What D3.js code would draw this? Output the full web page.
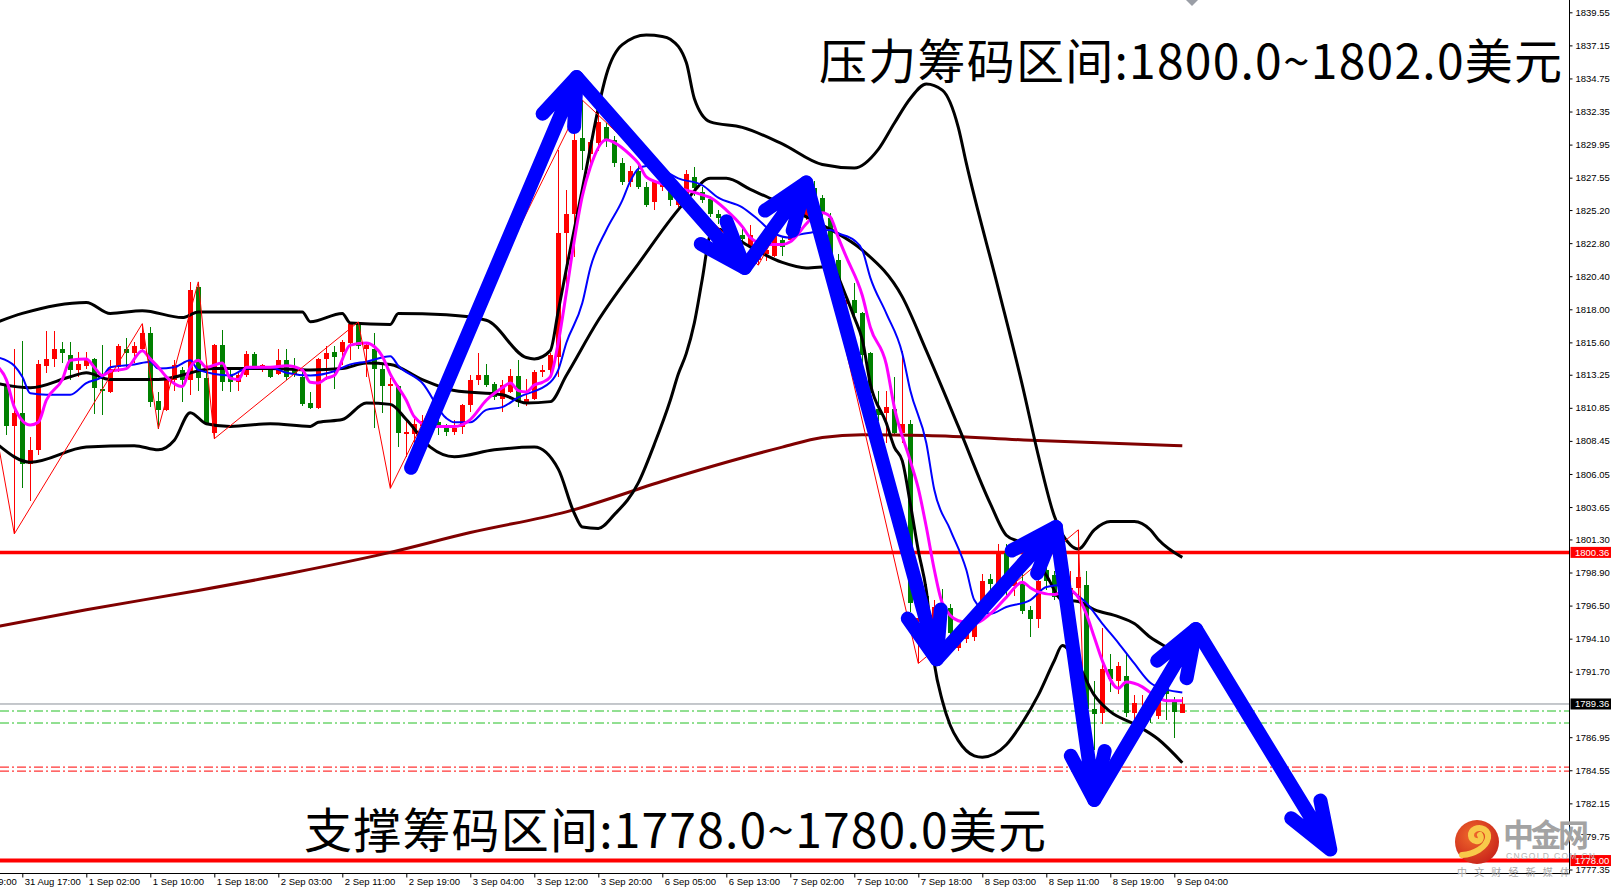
<!DOCTYPE html>
<html>
<head>
<meta charset="utf-8">
<script src="https://cdn.jsdelivr.net/npm/d3@7"></script>
<style>
  html, body { margin: 0; padding: 0; background: #fff; overflow: hidden; }
  svg { display: block; }
</style>
</head>
<body>
<div id="wrapper"></div>
<script>
// H1 bars, index 0 = first full bar at the left edge
const opens = [
  1812.6,1809.5,1810.5,1806.8,1807.8,1813.9,1814.4,1815.1,1814.7,1813.6,
  1813.9,1814.4,1812.25,1812.0,1813.8,1815.15,1814.8,1815.15,1816.25,1811.35,
  1810.7,1812.85,1813.6,1812.85,1819.6,1813.0,1809.0,1815.4,1813.2,1812.7,
  1813.2,1814.75,1813.6,1813.6,1813.3,1814.35,1813.7,1813.1,1811.2,1810.85,
  1814.4,1814.9,1814.9,1815.55,1816.95,1815.15,1815.15,1813.7,1812.4,1812.4,
  1808.95,1808.95,1809.5,1809.9,1809.8,1809.36,1809.07,1809.45,1811.03,1812.9,
  1813.26,1812.55,1811.5,1812.0,1813.15,1811.25,1811.5,1813.45,1813.6,1814.55,
  1823.5,1824.95,1830.4,1829.3,1830.05,1831.2,1830.3,1828.6,1827.2,1828.0,
  1826.9,1825.8,1826.9,1826.8,1825.6,1826.4,1827.6,1826.5,1826.0,1824.9,
  1824.6,1823.6,1823.4,1822.5,1821.6,1822.0,1821.9,1823.0,1823.0,1823.9,
  1824.8,1826.8,1826.1,1824.6,1821.6,1818.4,1818.7,1817.7,1814.8,1810.8,
  1810.45,1810.8,1809.05,1809.7,1795.4,1797.2,1795.2,1796.4,1796.3,1793.45,
  1794.1,1794.2,1796.65,1798.4,1798.1,1800.3,1797.95,1798.1,1796.2,1795.55,
  1799.05,1798.7,1797.3,1796.9,1797.8,1798.0,1789.0,1788.7,1791.9,1791.06,
  1791.4,1788.7,1788.5,1789.3,1788.5,1790.5,1789.6,1788.7
];
const highs = [
  1812.9,1815.1,1815.7,1808.7,1814.3,1816.4,1816.4,1815.6,1815.6,1814.9,
  1814.9,1814.5,1815.4,1814.3,1815.5,1815.9,1815.6,1816.96,1816.7,1812.0,
  1813.0,1814.3,1813.8,1820.0,1819.99,1813.8,1815.5,1816.5,1813.6,1813.45,
  1815.0,1814.9,1814.05,1813.8,1815.15,1815.15,1814.5,1813.45,1812.0,1814.5,
  1815.3,1815.3,1815.75,1817.0,1817.08,1815.5,1816.25,1814.1,1813.0,1812.5,
  1809.95,1810.05,1810.3,1810.2,1810.0,1809.7,1809.95,1811.1,1813.2,1814.8,
  1814.05,1812.75,1812.85,1813.7,1814.35,1812.95,1813.6,1813.95,1814.8,1829.55,
  1826.65,1831.7,1833.18,1830.3,1832.4,1831.5,1830.6,1829.0,1828.4,1828.5,
  1827.2,1827.4,1827.5,1827.6,1826.9,1828.1,1828.3,1826.9,1826.2,1825.2,
  1824.8,1823.9,1824.0,1824.1,1822.8,1822.6,1823.5,1823.3,1824.1,1825.2,
  1827.5,1827.3,1826.3,1825.0,1822.0,1819.0,1819.9,1817.8,1814.9,1812.1,
  1812.1,1813.1,1815.0,1809.95,1796.6,1798.1,1796.9,1797.7,1796.6,1794.3,
  1795.0,1795.5,1798.8,1798.8,1801.0,1801.0,1798.9,1798.8,1796.5,1798.5,
  1799.6,1799.0,1798.0,1799.0,1802.0,1799.0,1791.0,1794.9,1793.0,1792.4,
  1793.0,1790.0,1790.0,1790.3,1790.9,1790.8,1789.9,1789.9
];
const lows = [
  1808.9,1801.7,1805.0,1804.1,1807.4,1813.4,1813.8,1814.1,1812.9,1813.1,
  1813.7,1810.4,1810.3,1811.95,1813.45,1813.8,1814.1,1814.9,1810.9,1809.34,
  1810.6,1812.1,1811.3,1811.8,1812.1,1809.6,1808.61,1812.1,1812.0,1812.1,
  1813.1,1813.6,1813.45,1813.0,1813.2,1812.85,1813.1,1811.0,1810.8,1810.8,
  1812.85,1812.25,1813.95,1814.3,1815.15,1813.1,1809.35,1810.5,1805.0,1808.0,
  1807.3,1807.3,1809.1,1809.0,1808.9,1808.8,1808.85,1808.97,1810.55,1812.5,
  1812.35,1811.4,1810.55,1811.9,1810.9,1811.0,1811.4,1813.1,1813.1,1813.1,
  1819.15,1821.8,1828.1,1828.1,1829.5,1829.8,1828.3,1827.0,1826.9,1826.7,
  1825.4,1825.2,1826.6,1825.5,1825.4,1826.2,1826.2,1825.7,1824.7,1824.2,
  1823.3,1822.4,1822.6,1822.3,1821.2,1821.5,1821.8,1821.9,1822.9,1823.6,
  1824.5,1825.7,1824.5,1821.6,1819.7,1818.0,1817.6,1813.9,1809.7,1809.9,
  1808.3,1808.85,1808.3,1796.0,1792.3,1794.9,1794.7,1794.5,1794.1,1793.2,
  1793.8,1793.9,1796.1,1797.4,1797.95,1797.1,1797.2,1795.9,1794.2,1794.9,
  1797.6,1796.9,1796.4,1796.6,1796.8,1783.0,1786.0,1787.9,1790.2,1790.1,
  1788.4,1788.0,1788.4,1788.0,1788.3,1788.2,1786.9,1788.7
];
const closes = [
  1809.5,1810.5,1806.8,1807.8,1814.0,1814.4,1815.1,1814.8,1813.6,1814.0,
  1814.3,1812.3,1812.05,1813.7,1815.3,1814.8,1815.3,1816.25,1811.3,1810.7,
  1812.85,1813.95,1812.85,1819.4,1813.0,1809.7,1815.4,1812.7,1812.7,1813.2,
  1814.75,1813.8,1813.95,1813.1,1814.35,1813.1,1813.3,1811.15,1810.85,1814.4,
  1814.85,1814.55,1815.6,1816.95,1815.3,1815.4,1813.7,1812.4,1812.6,1809.0,
  1809.1,1809.65,1809.9,1809.4,1809.4,1809.07,1809.36,1811.03,1812.9,1813.26,
  1812.5,1811.65,1812.5,1813.15,1811.25,1811.5,1813.45,1813.6,1814.65,1823.5,
  1824.95,1830.3,1829.45,1830.15,1831.6,1830.3,1828.6,1827.2,1828.0,1826.9,
  1825.6,1827.2,1827.2,1825.9,1826.6,1827.8,1826.8,1825.9,1824.9,1824.6,
  1823.6,1822.8,1823.1,1823.4,1822.5,1822.3,1823.3,1822.5,1823.9,1824.8,
  1826.8,1826.0,1824.9,1821.8,1820.0,1818.7,1817.7,1814.7,1811.9,1810.3,
  1810.9,1809.0,1809.7,1796.7,1795.6,1796.0,1796.4,1795.0,1794.5,1794.1,
  1794.55,1795.2,1798.3,1798.1,1800.35,1798.1,1798.8,1796.1,1795.55,1798.3,
  1798.3,1797.1,1796.9,1797.8,1798.6,1789.0,1788.6,1791.9,1791.2,1792.15,
  1788.7,1789.4,1789.0,1788.9,1789.8,1790.1,1788.8,1789.36
];

// time axis labels: [bar index, label]
const timeTicks = [
  [-6,"31 Aug 09:00"],[2,"31 Aug 17:00"],[10,"1 Sep 02:00"],[18,"1 Sep 10:00"],
  [26,"1 Sep 18:00"],[34,"2 Sep 03:00"],[42,"2 Sep 11:00"],[50,"2 Sep 19:00"],
  [58,"3 Sep 04:00"],[66,"3 Sep 12:00"],[74,"3 Sep 20:00"],[82,"6 Sep 05:00"],
  [90,"6 Sep 13:00"],[98,"7 Sep 02:00"],[106,"7 Sep 10:00"],[114,"7 Sep 18:00"],
  [122,"8 Sep 03:00"],[130,"8 Sep 11:00"],[138,"8 Sep 19:00"],[146,"9 Sep 04:00"]
];
const priceTicks = [1839.55,1837.15,1834.75,1832.35,1829.95,1827.55,1825.20,1822.80,1820.40,
  1818.00,1815.60,1813.25,1810.85,1808.45,1806.05,1803.65,1801.30,1798.90,1796.50,
  1794.10,1791.70,1786.95,1784.55,1782.15,1779.75,1777.35];

// indicator lines: [bar index, price]
const bbUpper = [[-1,1817.1],[2,1817.7],[10,1818.5],[13,1817.7],[17,1817.9],[22,1817.4],[24,1817.8],
  [37,1817.8],[38,1817.1],[42,1817.7],[43,1817.0],[48,1816.9],[49,1817.7],[55,1817.6],[60,1817.2],
  [65,1814.5],[66,1814.4],[68,1815.0],[69,1817.9],[70,1820.9],[71,1823.8],[72,1826.7],[73,1829.7],
  [74,1832.6],[75,1835.0],[77,1837.2],[80,1837.9],[82,1837.8],[83,1837.6],[85,1835.9],[86,1833.3],
  [88,1831.6],[92,1831.2],[97,1830.0],[102,1828.5],[106,1828.25],[109,1829.6],[111,1831.5],
  [113,1833.3],[115,1834.35],[117,1833.9],[119,1831.2],[120,1828.6],[124,1819.5],[127,1812.5],
  [129,1807.4],[131,1803.0],[133,1800.9],[134,1800.6],[136,1802.0],[138,1802.6],[141,1802.6],
  [143,1802.0],[144,1801.3],[147,1800.0]];
const bbMiddle = [[-1,1812.6],[3,1812.3],[8,1813.1],[10,1813.4],[13,1812.9],[19,1812.9],[26,1813.7],
  [33,1813.7],[38,1813.6],[42,1813.7],[45,1814.1],[48,1814.0],[52,1812.9],[56,1812.1],[62,1811.8],
  [65,1811.2],[68,1811.3],[70,1813.2],[74,1817.2],[79,1821.3],[85,1825.9],[88,1827.5],[90,1827.5],
  [93,1826.7],[96,1825.9],[100,1824.7],[103,1823.8],[107,1822.3],[112,1818.9],[115,1815.0],
  [119,1809.5],[123,1803.9],[125,1801.6],[127,1801.0],[130,1798.7],[132,1796.9],[134,1796.8],
  [136,1796.2],[139,1795.7],[141,1795.2],[143,1794.2],[145,1793.5],[147,1792.9]];
const bbLower = [[-1,1808.15],[3,1806.9],[10,1808.0],[16,1808.1],[19,1807.8],[21,1808.5],[23,1810.5],
  [25,1809.7],[28,1809.5],[33,1809.7],[38,1809.5],[39,1809.8],[42,1810.0],[45,1811.2],[48,1811.1],
  [50,1810.0],[53,1808.0],[56,1807.3],[61,1807.8],[66,1808.0],[69,1806.4],[71,1803.2],[72,1802.2],
  [74,1802.1],[76,1803.1],[79,1805.4],[81,1808.2],[83,1811.4],[84,1813.3],[85,1814.8],[86,1817.0],
  [87,1820.2],[88,1823.4],[89,1823.8],[91,1823.2],[94,1822.2],[97,1821.4],[100,1821.0],[103,1821.1],
  [105,1818.9],[106,1817.4],[107,1815.8],[108,1812.6],[110,1809.75],[111,1808.0],[112,1807.0],
  [113,1803.9],[114,1800.5],[115,1797.6],[116,1792.3],[117,1789.6],[118,1787.8],[119,1786.7],
  [121,1785.6],[122,1785.5],[125,1786.4],[127,1788.0],[129,1790.0],[131,1792.5],[132,1793.6],
  [134,1792.2],[136,1790.0],[138,1788.8],[141,1787.9],[144,1786.8],[147,1785.1]];
const maFast = [[-1,1813.8],[0,1812.9],[1,1810.9],[3,1809.6],[4,1809.8],[5,1811.4],[7,1812.9],[8,1814.3],
  [10,1814.4],[11,1813.8],[12,1813.2],[13,1813.5],[15,1813.7],[17,1815.0],[18,1814.4],[19,1813.8],
  [20,1813.1],[22,1812.4],[23,1813.8],[24,1814.3],[25,1813.8],[27,1814.1],[28,1813.0],[29,1812.9],
  [30,1813.8],[33,1813.8],[35,1813.9],[37,1813.6],[38,1812.7],[39,1812.65],[40,1813.0],[41,1813.2],
  [43,1815.4],[45,1815.55],[46,1815.3],[47,1814.6],[48,1813.3],[50,1811.4],[51,1810.2],[53,1809.5],
  [56,1809.5],[58,1810.0],[60,1811.4],[62,1812.3],[63,1812.65],[64,1812.1],[65,1812.0],[66,1812.5],
  [67,1812.7],[68,1813.1],[69,1815.6],[70,1819.2],[71,1823.0],[72,1826.2],[73,1828.3],[75,1830.3],
  [76,1830.1],[78,1829.2],[79,1828.6],[80,1827.6],[82,1827.1],[83,1826.9],[85,1826.65],[87,1826.3],
  [88,1826.1],[90,1825.2],[92,1824.0],[93,1823.2],[95,1822.7],[97,1822.7],[98,1822.9],[100,1824.2],
  [101,1824.8],[102,1825.0],[103,1824.7],[104,1823.2],[105,1821.8],[107,1819.0],[108,1816.7],
  [110,1814.0],[111,1810.9],[113,1807.0],[114,1805.0],[115,1802.2],[116,1799.1],[117,1796.7],
  [119,1795.4],[121,1795.2],[123,1795.9],[125,1797.1],[127,1798.2],[128,1797.8],[129,1797.5],
  [131,1797.3],[132,1797.5],[133,1797.6],[134,1797.1],[135,1795.9],[136,1794.2],[137,1792.5],
  [139,1790.5],[140,1790.95],[142,1790.6],[143,1790.2],[145,1789.6],[147,1789.6]];
const maSlow = [[-1,1814.5],[1,1813.9],[2,1813.1],[3,1811.9],[5,1811.8],[8,1811.8],[10,1812.65],
  [12,1813.1],[13,1813.8],[16,1814.0],[18,1814.2],[19,1813.7],[21,1813.8],[23,1814.3],[24,1813.6],
  [28,1813.2],[30,1813.7],[33,1813.8],[35,1813.4],[38,1813.2],[41,1813.5],[43,1814.0],[45,1814.2],
  [48,1814.6],[49,1813.9],[52,1812.65],[55,1810.1],[56,1809.8],[58,1809.8],[60,1810.7],[62,1810.9],
  [64,1811.6],[68,1812.7],[69,1813.6],[70,1815.55],[72,1818.45],[73,1821.0],[75,1823.75],[77,1825.9],
  [78,1827.3],[79,1828.2],[80,1828.4],[82,1828.1],[84,1827.5],[87,1827.0],[89,1826.1],[92,1825.4],
  [94,1824.5],[96,1823.5],[98,1823.2],[99,1823.4],[101,1823.6],[103,1823.75],[104,1823.5],
  [106,1823.0],[107,1822.3],[108,1820.3],[110,1817.7],[112,1814.8],[113,1812.1],[115,1808.3],
  [116,1804.9],[118,1802.0],[120,1799.1],[121,1796.9],[123,1795.9],[125,1796.4],[128,1796.9],
  [130,1797.85],[132,1798.0],[133,1797.6],[135,1796.7],[137,1795.2],[139,1793.8],[141,1792.3],
  [143,1790.9],[145,1790.4],[147,1790.2]];
const maLong = [[-1,1795.0],[10,1796.2],[24,1797.6],[36,1798.9],[48,1800.36],[58,1801.8],[70,1803.3],
  [83,1805.7],[90,1806.9],[97,1808.0],[102,1808.7],[107,1808.9],[115,1808.85],[128,1808.5],[147,1808.1]];
const zigzag = [[-1,1808.2],[1,1801.7],[17,1816.96],[19,1809.34],[24,1819.99],[26,1808.61],[44,1817.08],
  [48,1805.0],[72,1833.18],[94,1821.2],[100,1827.5],[114,1792.3],[134,1802.0],[135,1783.0]];

// hand drawn blue arrows, each leg ends with a head
const arrowPath = [[50.6,1806.5],[71.3,1834.85],[92.3,1821.0],[100,1827.2],[116.3,1792.6],
  [131.2,1802.2],[136,1782.4],[148.7,1794.8],[165.5,1778.8]];

const resistPrice = 1800.36;
const supportPrice = 1778.00;
const bidPrice = 1789.36;
const greenLevels = [1788.85, 1787.98];
const redLevels = [1784.78, 1784.49];

const topNote = "压力筹码区间:1800.0~1802.0美元";
const bottomNote = "支撑筹码区间:1778.0~1780.0美元";

function buildChart() {
    const dimension = { width: 1611, height: 888, plotRight: 1569.5, plotBottom: 873 };

    const xScaler = d3.scaleLinear().domain([0, 147]).range([6.3, 1182.3]);
    const yScaler = d3.scaleLinear().domain([1777.35, 1839.55]).range([869.5, 12.3]);

    const svg = d3.select("#wrapper").append("svg")
        .attr("width", dimension.width)
        .attr("height", dimension.height);

    svg.append("rect").attr("width", dimension.width).attr("height", dimension.height).attr("fill", "#fff");

    const defs = svg.append("defs");
    defs.append("clipPath").attr("id", "plotClip")
        .append("rect").attr("x", 0).attr("y", 0)
        .attr("width", dimension.plotRight).attr("height", dimension.plotBottom - 1);
    const grad = defs.append("radialGradient").attr("id", "logoGrad").attr("cx", "40%").attr("cy", "35%").attr("r", "70%");
    grad.append("stop").attr("offset", "0%").attr("stop-color", "#f06a2c");
    grad.append("stop").attr("offset", "100%").attr("stop-color", "#c9231a");

    const bounded = svg.append("g").attr("clip-path", "url(#plotClip)");

    // horizontal levels
    const hline = (price, color, width, dash) => bounded.append("line")
        .attr("x1", 0).attr("x2", dimension.plotRight)
        .attr("y1", yScaler(price)).attr("y2", yScaler(price))
        .attr("stroke", color).attr("stroke-width", width)
        .attr("stroke-dasharray", dash || null);

    greenLevels.forEach(p => hline(Math.round(yScaler(p)) ? p : p, "#25c025", 1, "9,3,2,3"));
    redLevels.forEach(p => hline(p, "#ff0000", 1, "9,3,2,3"));
    hline(bidPrice, "#8b9098", 1);
    hline(resistPrice, "#ff0000", 3.5);
    hline(supportPrice, "#ff0000", 4);

    // candles
    const bars = d3.range(opens.length);
    const candle = bounded.append("g").attr("shape-rendering", "crispEdges");
    const colorOf = i => closes[i] >= opens[i] ? "#ff0000" : "#008000";
    candle.selectAll("line").data(bars).join("line")
        .attr("x1", i => Math.round(xScaler(i)) + 0.5)
        .attr("x2", i => Math.round(xScaler(i)) + 0.5)
        .attr("y1", i => yScaler(Math.max(highs[i], opens[i], closes[i])))
        .attr("y2", i => yScaler(Math.min(lows[i], opens[i], closes[i])))
        .attr("stroke", colorOf);
    candle.selectAll("rect").data(bars).join("rect")
        .attr("x", i => Math.round(xScaler(i)) - 2)
        .attr("width", 5)
        .attr("y", i => yScaler(Math.max(opens[i], closes[i])))
        .attr("height", i => Math.max(1, Math.abs(yScaler(opens[i]) - yScaler(closes[i]))))
        .attr("fill", colorOf);

    // indicator lines
    const smooth = d3.line().x(d => xScaler(d[0])).y(d => yScaler(d[1])).curve(d3.curveMonotoneX);
    const straight = d3.line().x(d => xScaler(d[0])).y(d => yScaler(d[1]));
    const drawLine = (data, gen, color, width) => bounded.append("path")
        .attr("d", gen(data)).attr("fill", "none")
        .attr("stroke", color).attr("stroke-width", width)
        .attr("stroke-linejoin", "round");

    drawLine(maLong, smooth, "#800000", 3);
    drawLine(bbUpper, smooth, "#000", 3);
    drawLine(bbMiddle, smooth, "#000", 3);
    drawLine(bbLower, smooth, "#000", 3);
    drawLine(maSlow, smooth, "#0000ff", 2);
    drawLine(maFast, smooth, "#ff00ff", 3);
    drawLine(zigzag, straight, "#ff0000", 1);

    // arrows
    const arrows = bounded.append("g");
    const spread = 20 * Math.PI / 180, armLen = 50;
    for (let i = 1; i < arrowPath.length; i++) {
        const x0 = xScaler(arrowPath[i - 1][0]), y0 = yScaler(arrowPath[i - 1][1]);
        const x1 = xScaler(arrowPath[i][0]), y1 = yScaler(arrowPath[i][1]);
        const back = Math.atan2(y0 - y1, x0 - x1);
        const a1 = [x1 + armLen * Math.cos(back - spread), y1 + armLen * Math.sin(back - spread)];
        const a2 = [x1 + armLen * Math.cos(back + spread), y1 + armLen * Math.sin(back + spread)];
        arrows.append("path")
            .attr("d", `M${x0},${y0}L${x1},${y1}M${a1[0]},${a1[1]}L${x1},${y1}L${a2[0]},${a2[1]}`)
            .attr("fill", "none").attr("stroke", "#0000ff").attr("stroke-width", 14)
            .attr("stroke-linecap", "round").attr("stroke-linejoin", "round");
    }

    // frame
    svg.append("line").attr("x1", dimension.plotRight).attr("x2", dimension.plotRight)
        .attr("y1", 0).attr("y2", dimension.plotBottom + 0.5).attr("stroke", "#000");
    svg.append("line").attr("x1", 0).attr("x2", dimension.plotRight)
        .attr("y1", dimension.plotBottom + 0.5).attr("y2", dimension.plotBottom + 0.5).attr("stroke", "#000");

    // price axis
    const yAxis = d3.axisRight(yScaler).tickValues(priceTicks).tickSize(3).tickPadding(3)
        .tickFormat(d3.format(".2f"));
    const yG = svg.append("g").attr("transform", `translate(${dimension.plotRight},0)`).call(yAxis);
    yG.select(".domain").remove();
    yG.attr("font-family", "'Liberation Sans', Arial, sans-serif").attr("font-size", 9.5);
    yG.selectAll("line").attr("stroke", "#000");
    yG.selectAll("text").attr("fill", "#000");

    // time axis
    const xAxis = d3.axisBottom(xScaler).tickValues(timeTicks.map(d => d[0])).tickSize(4)
        .tickFormat((d, i) => timeTicks[i][1]);
    const xG = svg.append("g").attr("transform", `translate(0,${dimension.plotBottom + 0.5})`).call(xAxis);
    xG.select(".domain").remove();
    xG.attr("font-family", "'Liberation Sans', Arial, sans-serif").attr("font-size", 9.5);
    xG.selectAll("line").attr("stroke", "#000");
    xG.selectAll("text").attr("fill", "#000").attr("text-anchor", "start").attr("x", 2).attr("y", 5);

    // price tags on the axis
    const tagPrices = [resistPrice, bidPrice, supportPrice];
    const tagFills = ["#ff0000", "#000000", "#ff0000"];
    tagPrices.forEach((p, i) => {
        const y = yScaler(p);
        svg.append("rect").attr("x", dimension.plotRight + 1).attr("y", y - 5.5)
            .attr("width", 41).attr("height", 11).attr("fill", tagFills[i]);
        svg.append("text").attr("x", dimension.plotRight + 5.5).attr("y", y + 3.5)
            .attr("font-family", "'Liberation Sans', Arial, sans-serif").attr("font-size", 9.5)
            .attr("fill", "#fff").text(d3.format(".2f")(p));
    });

    // shift marker
    svg.append("path").attr("d", "M1186,0L1198,0L1192,6Z").attr("fill", "#9a9ea6");

    // annotations
    svg.append("text").attr("x", 819).attr("y", 79)
        .attr("font-family", "'Noto Sans CJK SC', sans-serif").attr("font-size", 48)
        .attr("textLength", 743).attr("fill", "#000").text(topNote);
    svg.append("text").attr("x", 304).attr("y", 848)
        .attr("font-family", "'Noto Sans CJK SC', sans-serif").attr("font-size", 48)
        .attr("textLength", 742).attr("fill", "#000").text(bottomNote);

    // watermark logo
    const logo = svg.append("g").attr("transform", "translate(1477,842)");
    logo.append("circle").attr("r", 22).attr("fill", "url(#logoGrad)");
    logo.append("path")
        .attr("d", "M-15,13C-3,12 9,6 11,-4C12,-12 4,-16 -2,-13C-8,-10 -7,-2 -1,-1C3,0 5,-4 3,-7")
        .attr("fill", "none").attr("stroke", "#f8c94a").attr("stroke-width", 6)
        .attr("stroke-linecap", "round").attr("stroke-linejoin", "round");
    svg.append("text").attr("x", 1503).attr("y", 846)
        .attr("font-family", "'Noto Sans CJK SC', sans-serif").attr("font-weight", 700)
        .attr("font-size", 31).attr("textLength", 86).attr("fill", "#a3a3a3").text("中金网");
    svg.append("text").attr("x", 1506).attr("y", 859)
        .attr("font-family", "'Liberation Sans', Arial, sans-serif").attr("font-size", 8.5)
        .attr("textLength", 89).attr("fill", "#b4b4b4").text("CNGOLD.COM.CN");
    svg.append("text").attr("x", 1457).attr("y", 876)
        .attr("font-family", "'Noto Sans CJK SC', sans-serif").attr("font-size", 10)
        .attr("textLength", 113).attr("fill", "#a8a8a8").text("中文财经新媒体");
}

buildChart();
</script>
</body>
</html>
